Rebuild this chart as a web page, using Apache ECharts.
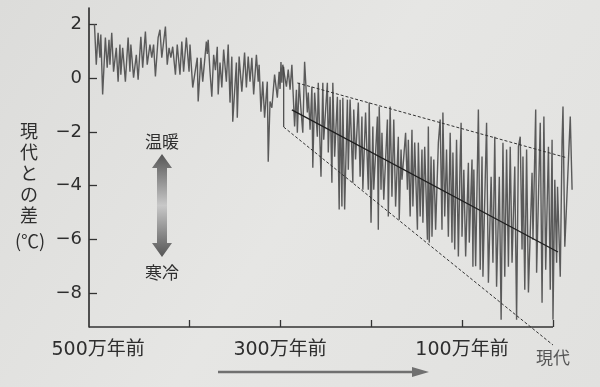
<!DOCTYPE html>
<html><head><meta charset="utf-8">
<script src="https://cdn.jsdelivr.net/npm/echarts@6/dist/echarts.min.js"></script>
<style>html,body{margin:0;padding:0;background:#e3e3e1}#c{width:600px;height:387px}</style>
</head><body><div id="c"></div>
<script>
// age in 万年 (negative = before present), temperature difference from present (℃)
const ages1 = [-504,-502,-500,-498,-497,-495,-492,-490,-488,-487,-485,-483,-480,-478,-476,-475,-473,-470,-467,-465,-464,-461,-458,-456,-453,-451,-448,-446,-443,-441,-439,-437,-434,-432,-430,-426,-424,-422,-420,-418,-415,-413,-410,-408,-406,-403];
const temps1 = [2.0,0.5,1.69,0.76,1.62,-0.61,1.51,0.39,1.43,0.5,1.69,0.24,1.13,-0.13,1.25,0.13,1.13,-0.13,1.51,0.24,1.25,0.02,0.87,-0.06,1.54,0.39,1.73,0.5,1.25,0.76,1.25,0.06,1.51,1.8,0.76,1.92,0.5,1.13,0.76,1.17,0.13,1.25,0.13,1.36,0.24,1.51];
const ages2 = [-400,-399,-396,-391,-390,-387,-385,-381,-380,-379,-377,-375,-373,-371,-369,-368,-366,-364,-362,-359,-357,-355,-353,-352,-348,-347,-345,-342,-339,-337,-335,-333,-331,-329,-326,-324,-323,-321,-319,-317,-314,-313,-311,-309,-306,-303,-301,-300,-299,-298,-297];
const temps2 = [0.24,1.25,-0.35,0.76,-0.87,0.76,-0.13,1.36,0.9,1.43,0.24,-0.69,0.87,0.3,1.17,-0.61,0.58,-0.35,1.06,-0.13,1.25,-0.91,0.8,-1.62,0.58,-1.47,0.8,-0.5,0.95,-0.35,0.8,-0.13,0.76,-0.61,0.87,-0.13,0.5,-1.25,-0.13,-1.47,-0.13,-3.11,-0.87,-1.1,0.13,-0.73,0.24,-0.4,0.6,-0.17,0.5];
const ages3 = [-293,-291,-289,-287,-284,-282,-281,-279,-277,-275,-273,-270,-269,-267,-265,-264,-262,-259,-258,-255,-253,-252,-248,-247,-245,-243,-242,-240,-237,-235,-234,-232,-231,-229,-226,-225,-223,-220,-219,-217,-214,-212,-210,-209,-206,-203,-202,-200,-198,-197,-193,-192];
const temps3 = [-0.32,0.32,-0.43,0.5,-1.8,-0.43,-2.03,-0.17,-1.17,-2.03,0.61,-1.28,-0.54,-1.92,-0.32,-3.33,-0.54,-2.18,-0.17,-3.67,-0.17,-2.29,-0.17,-2.77,-0.69,-3.89,-0.17,-2.92,-0.69,-4.89,-0.8,-4.78,-0.73,-4.89,-0.8,-3.41,-0.8,-3.89,-1.17,-3.03,-0.91,-3.67,-1.43,-4.15,-1.28,-4.15,-0.91,-5.38,-1.8,-4.15,-1.43,-5.64];
const ages4 = [-191,-189,-188,-186,-182,-181,-179,-177,-175,-173,-170,-169,-167,-166,-164,-162,-160,-159,-157,-155,-154,-152,-149,-148,-146,-144,-143,-141,-138,-137,-136,-134,-133,-131,-129,-126,-124,-122,-121,-119,-117,-115,-113,-111,-110,-108,-106,-104,-102,-101,-100,-98,-96,-93,-92,-89,-88];
const temps4 = [-1.06,-4.15,-2.03,-4.52,-1.54,-5.15,-1.06,-4.41,-1.54,-4.78,-2.18,-5.27,-2.66,-3.78,-2.92,-2.03,-4.15,-2.29,-5.15,-1.92,-4.78,-2.4,-5.64,-2.4,-5.15,-2.66,-5.38,-2.55,-6.01,-1.8,-6.12,-2.92,-5.9,-3.03,-5.64,-2.4,-1.54,-5.64,-1.28,-5.15,-2.66,-5.9,-2.03,-6.12,-2.77,-6.38,-2.29,-6.64,-2.92,-1.66,-5.9,-3.41,-6.64,-3.15,-6.12,-3.03,-7.02];
const ages5 = [-87,-85,-82,-80,-78,-77,-73,-71,-68,-66,-64,-62,-59,-57,-55,-53,-51,-49,-47,-45,-42,-40,-38,-36,-34,-33,-31,-29,-27,-23,-22,-19,-18,-14,-12,-10,-8,-5,-3,-1,0,2,4,5,8,10,11,13,19,21];
const temps5 = [-3.4,-7.0,-1.17,-7.13,-2.92,-7.39,-1.66,-7.61,-3.67,-6.87,-2.18,-7.76,-3.67,-8.99,-2.4,-7.39,-2.66,-7.02,-2.55,-6.87,-3.29,-8.99,-2.55,-2.18,-6.38,-2.92,-7.87,-2.66,-7.98,-3.52,-6.01,-1.17,-7.24,-1.66,-8.36,-1.43,-7.13,-2.55,-7.87,-2.29,-8.99,-3.78,-6.87,-4.04,-7.39,-2.29,-1.06,-6.27,-1.43,-4.15];

// annotation lines (age, ℃)
const trendLine = [[-287,-1.18],[5.5,-6.47]];
const upperBound = [[-281,-0.18],[15,-2.96]];
const lowerBound = [[-296,-1.82],[0,-9.93]];
const startBar = [[-296,0.42],[-296,-1.82]];

const yTicks = [2,0,-2,-4,-6,-8];
const xTicks = [-400,-300,-200,-100,0];
const xLabels = [-500,-300,-100,0];
const Y_MIN = -9.26, Y_MAX = 2.61, X_MIN = -510, X_MAX = 22;

const ages = [].concat(ages1,ages2,ages3,ages4,ages5);
const temps = [].concat(temps1,temps2,temps3,temps4,temps5);
const series = ages.map((a,i)=>[a,temps[i]]);

const ink = '#2e2e2e';
const chart = echarts.init(document.getElementById('c'));
chart.setOption({
  backgroundColor: {type:'linear',x:0,y:0,x2:1,y2:1,colorStops:[{offset:0,color:'#dcdcda'},{offset:0.5,color:'#e6e6e4'},{offset:1,color:'#e1e1df'}]},
  animation:false,
  grid:{left:89,right:27,top:8,bottom:60},
  xAxis:{type:'value',min:X_MIN,max:X_MAX,splitLine:{show:false},
    axisLine:{show:false,onZero:false},
    axisTick:{show:true,inside:true,length:7,customValues:xTicks,lineStyle:{color:'#333',width:1.3}},
    axisLabel:{customValues:xLabels,margin:14,color:ink,fontSize:19,fontFamily:'"DejaVu Sans","Noto Sans CJK JP"',
      formatter:v=>v===0?'{now|現代}':(-v)+'万年前',
      rich:{now:{fontSize:17,color:'#555',fontFamily:'"Noto Sans CJK JP"',padding:[8,0,0,0]}}}
  },
  yAxis:{type:'value',min:Y_MIN,max:Y_MAX,splitLine:{show:false},
    axisLine:{show:true,onZero:false,lineStyle:{color:'#2a2a2a',width:1.6}},
    axisTick:{show:true,inside:true,length:8,customValues:yTicks,lineStyle:{color:'#333',width:1.3}},
    axisLabel:{customValues:yTicks,margin:7,color:ink,fontSize:18,fontFamily:'"DejaVu Sans"',
      formatter:v=>v<0?'−'+(-v):String(v)}
  },
  series:[
    {type:'line',data:series,symbol:'none',lineStyle:{color:'#5a5a5a',width:1.4},z:2},
    {type:'line',data:[[X_MIN,Y_MIN],[0,Y_MIN]],symbol:'none',clip:false,silent:true,lineStyle:{color:'#333',width:1.6},z:3},
    {type:'line',data:trendLine,symbol:'none',lineStyle:{color:'#1e1e1e',width:1.2},z:4},
    {type:'line',data:upperBound,symbol:'none',clip:false,lineStyle:{color:'#333',width:1,type:[3,2]},z:4},
    {type:'line',data:lowerBound,symbol:'none',clip:false,lineStyle:{color:'#333',width:1,type:[3,2]},z:4},
    {type:'line',data:startBar,symbol:'none',lineStyle:{color:'#444',width:1.2},z:4}
  ],
  graphic:[
    {type:'text',x:29,y:121,style:{text:'現\n代\nと\nの\n差',font:'18px "Noto Sans CJK JP"',fill:ink,textAlign:'center',lineHeight:21}},
    {type:'text',x:30,y:241,style:{text:'(℃)',font:'18px "Noto Sans CJK JP"',fill:ink,textAlign:'center',textVerticalAlign:'middle'}},
    {type:'text',x:162,y:142,style:{text:'温暖',font:'17px "Noto Sans CJK JP"',fill:ink,textAlign:'center',textVerticalAlign:'middle'}},
    {type:'text',x:162,y:273,style:{text:'寒冷',font:'17px "Noto Sans CJK JP"',fill:ink,textAlign:'center',textVerticalAlign:'middle'}},
    {type:'polygon',shape:{points:[[162,154],[172,168],[167,168],[167,243],[172,243],[162,257],[152,243],[157,243],[157,168],[152,168]]},
      style:{fill:{type:'linear',x:0,y:0,x2:0,y2:1,colorStops:[{offset:0,color:'#555'},{offset:0.5,color:'#c8c8c8'},{offset:1,color:'#555'}]}}},
    {type:'line',shape:{x1:218,y1:372,x2:415,y2:372},style:{stroke:'#707070',lineWidth:2.5}},
    {type:'polygon',shape:{points:[[412,367],[429,372],[412,377]]},style:{fill:'#707070'}}
  ]
});
</script></body></html>
